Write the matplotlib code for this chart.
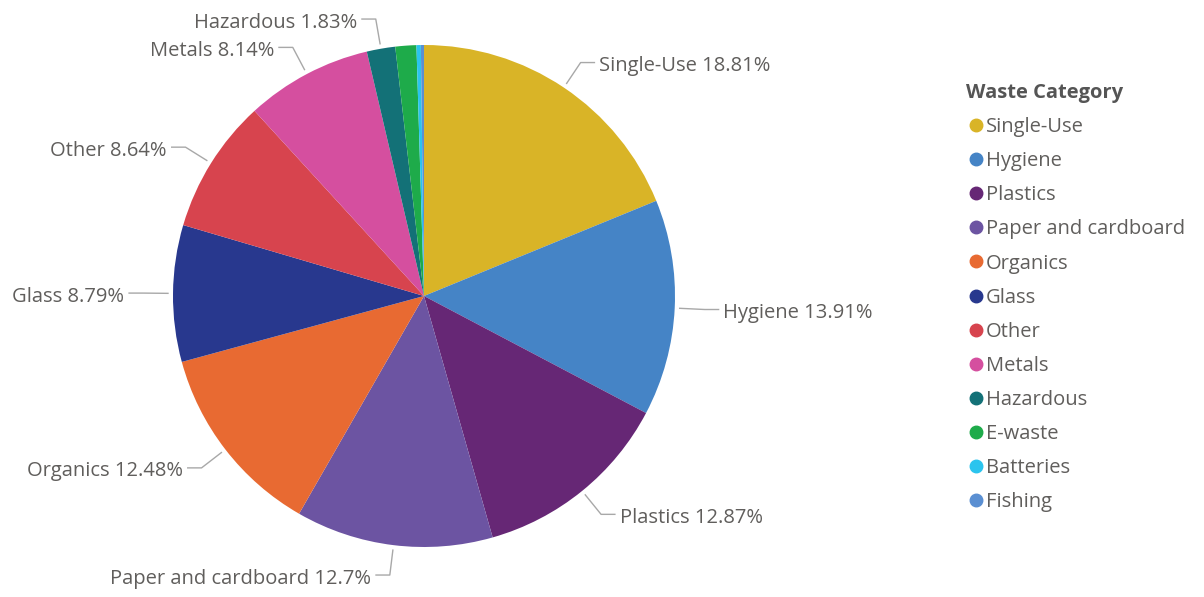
import numpy as np
import matplotlib
matplotlib.use("Agg")
import matplotlib.pyplot as plt
from matplotlib.lines import Line2D

categories = ["Single-Use", "Hygiene", "Plastics", "Paper and cardboard", "Organics",
              "Glass", "Other", "Metals", "Hazardous", "E-waste", "Batteries", "Fishing"]
shares = [18.81, 13.91, 12.87, 12.70, 12.48, 8.79, 8.64, 8.14, 1.83, 1.35, 0.28, 0.20]
share_labels = ["18.81%", "13.91%", "12.87%", "12.7%", "12.48%", "8.79%", "8.64%",
                "8.14%", "1.83%", None, None, None]
colors = ["#D9B427", "#4584C6", "#662775", "#6C54A2", "#E86A32", "#28388E",
          "#D7444E", "#D54F9F", "#137177", "#1EAB4A", "#2BC4EE", "#5A8FD2"]

plt.rcParams['font.family'] = ['Open Sans', 'DejaVu Sans']
text_color = "#605E5C"
line_color = "#A8A8A8"

W, H = 1204, 597
fig = plt.figure(figsize=(W / 100, H / 100), dpi=100)

# pie centre and radius in pixels
cx, cy, R = 424, 301, 251
S = 290
ax = fig.add_axes([(cx - S) / W, (cy - S) / H, 2 * S / W, 2 * S / H])

wedges, _ = ax.pie(shares, colors=colors, startangle=90, counterclock=False,
                   radius=1, wedgeprops=dict(linewidth=0))
ax.set_xlim(-S / R, S / R)
ax.set_ylim(-S / R, S / R)
ax.set_aspect("equal")
ax.axis("off")

for w, lab, cat in zip(wedges, share_labels, categories):
    if lab is None:
        continue
    ang = np.deg2rad((w.theta1 + w.theta2) / 2)
    ca, sa = np.cos(ang), np.sin(ang)
    x0, y0 = 1.02 * ca, 1.02 * sa
    x1, y1 = 1.12 * ca, 1.12 * sa
    side = 1 if ca >= 0 else -1
    x2 = x1 + side * 0.055
    ax.plot([x0, x1, x2], [y0, y1, y1], color=line_color, lw=1, clip_on=False)
    ax.annotate(f"{cat} {lab}", xy=(x2, y1), xytext=(side * 3.5, -2.5),
                textcoords="offset points", ha="left" if side > 0 else "right",
                va="center", fontsize=14.5, color=text_color, annotation_clip=False)

handles = [Line2D([], [], marker="o", linestyle="", markersize=9,
                  markerfacecolor=c, markeredgecolor=c) for c in colors]
leg = fig.legend(handles, categories, loc="upper left", bbox_to_anchor=(958 / W, 1 - 75 / H),
                 frameon=False, title="Waste Category", fontsize=14.5,
                 labelspacing=0.70, handletextpad=0.0, handlelength=1.0,
                 alignment="left", borderaxespad=0)
leg.get_title().set_fontweight("bold")
leg.get_title().set_color("#555555")
leg.get_title().set_fontsize(14.5)
for t in leg.get_texts():
    t.set_color(text_color)

fig.savefig("out.png", dpi=100)
